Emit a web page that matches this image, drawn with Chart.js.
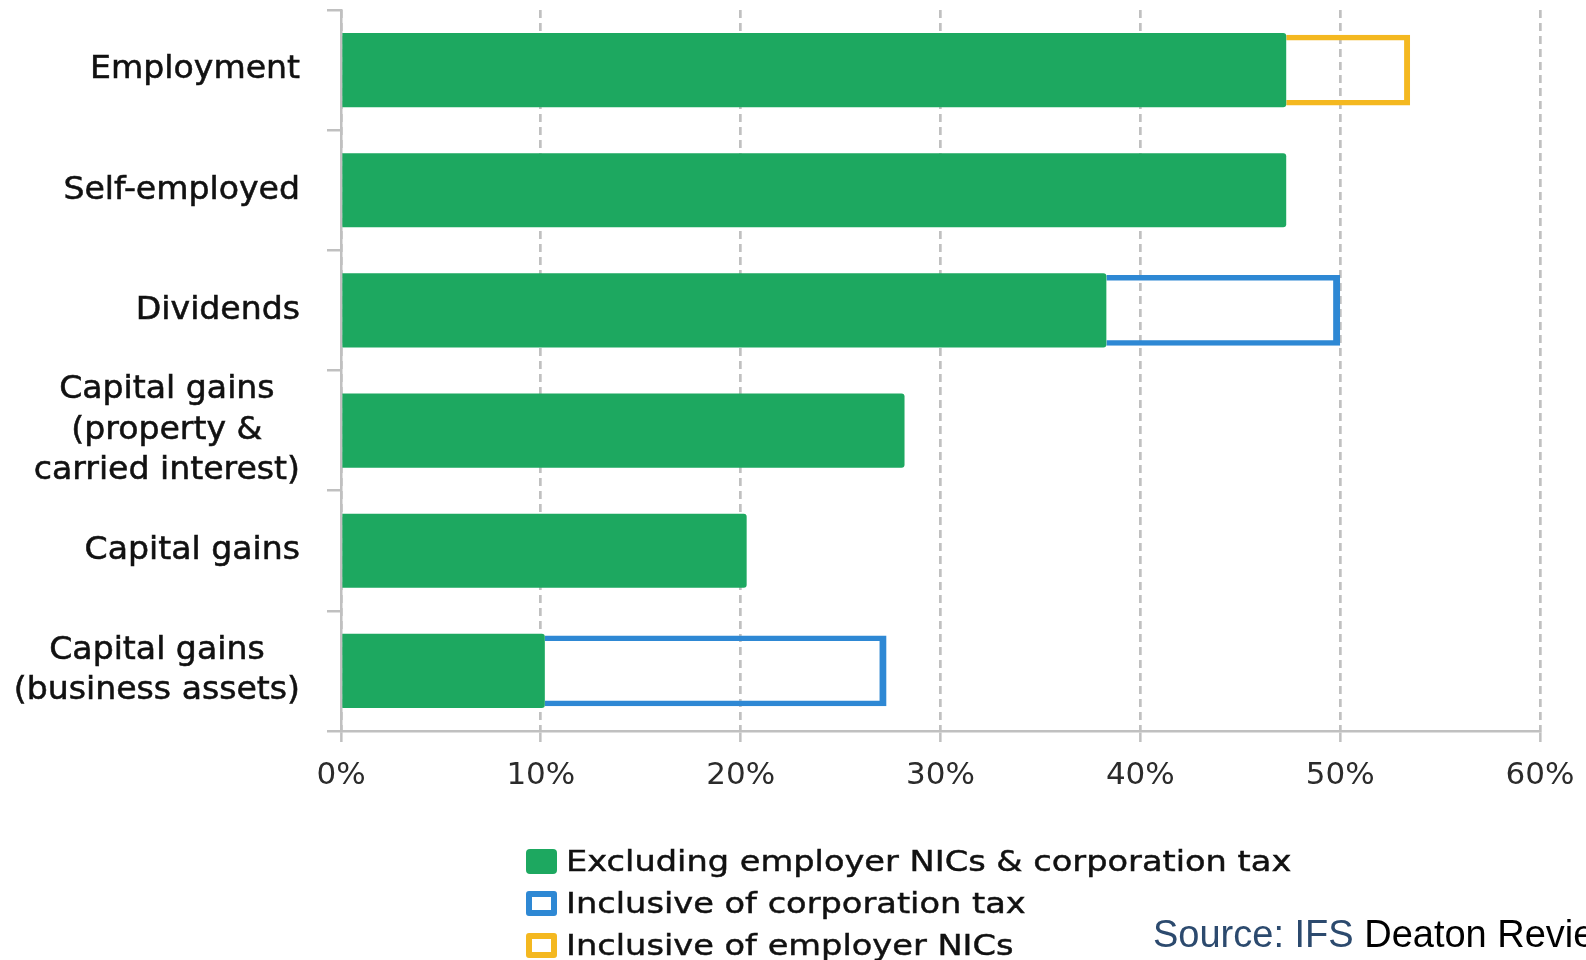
<!DOCTYPE html>
<html>
<head>
<meta charset="utf-8">
<title>Effective tax rates by income source</title>
<script src="https://cdn.jsdelivr.net/npm/chart.js@4/dist/chart.umd.min.js"></script>
<style>
  html, body { margin: 0; padding: 0; background: #fff; }
  body { width: 1586px; height: 960px; position: relative; overflow: hidden; }
  #chart { position: absolute; left: 0; top: 0; }
  .legend { position: absolute; left: 526px; top: 845px; font-family: "DejaVu Sans", sans-serif; font-size: 28.5px; color: #111; -webkit-text-stroke: 0.45px #111; }
  .legend .row { position: relative; height: 42px; }
  .legend .sw { position: absolute; left: 0; box-sizing: border-box; width: 31px; height: 25px; border-radius: 4px; }
  .legend .txt { position: absolute; left: 40px; top: 0; line-height: 34px; white-space: nowrap; transform: scaleX(1.18); transform-origin: left center; }
  .source { position: absolute; left: 1153px; top: 913px; font-family: "Liberation Sans", Arial, sans-serif; font-size: 38px; line-height: 42px; white-space: nowrap; color: #000; }
  .source .org { color: #2c4a6e; }
</style>
</head>
<body>
<canvas id="chart" width="1586" height="960"></canvas>

<div class="legend">
  <div class="row"><span class="sw" style="top:4px;background:#1da860;"></span><span class="txt">Excluding employer NICs &amp; corporation tax</span></div>
  <div class="row"><span class="sw" style="top:4px;border:6px solid #2e88d4;border-radius:3px;"></span><span class="txt">Inclusive of corporation tax</span></div>
  <div class="row"><span class="sw" style="top:4px;border:6px solid #f4b820;border-radius:3px;"></span><span class="txt">Inclusive of employer NICs</span></div>
</div>
<div class="source"><span class="org">Source: IFS</span> Deaton Review</div>

<script>
// Income sources (multi-line labels are arrays of lines)
const categories = [
  'Employment',
  'Self-employed',
  'Dividends',
  ['Capital gains', '(property &', 'carried interest)'],
  'Capital gains',
  ['Capital gains', '(business assets)']
];

// Effective marginal tax rates, %
const excludingTax     = [47.3, 47.3, 38.3, 28.2, 20.3, 10.2];
const withCorpTax      = [null, null, 50.0, null, null, 27.3];
const withEmployerNICs = [53.5, null, null, null, null, null];

// Axis ticks, %
const xTicks = [0, 10, 20, 30, 40, 50, 60];

const GREEN = '#1da860';
const BLUE = '#2e88d4';
const YELLOW = '#f4b820';
const GRID = '#c0c0c0';

// Extra bands run from the base rate up to the inclusive rate
const band = (totals) => totals.map((v, i) => (v == null ? null : [excludingTax[i], v]));

// Category labels: block right-aligned to the axis, lines centred within the block
const blockLabels = {
  id: 'blockLabels',
  afterDraw(chart) {
    const { ctx } = chart;
    const y = chart.scales.y;
    const SX = 1.035, LINE_H = 40.5, RIGHT = 300;
    ctx.save();
    ctx.font = '32px "DejaVu Sans"';
    ctx.fillStyle = '#111';
    ctx.strokeStyle = '#111';
    ctx.lineWidth = 0.55;
    ctx.textAlign = 'center';
    ctx.textBaseline = 'middle';
    categories.forEach((lab, i) => {
      const lines = Array.isArray(lab) ? lab : [lab];
      const w = Math.max(...lines.map(l => ctx.measureText(l).width * SX));
      const cx = RIGHT - w / 2;
      const yc = y.getPixelForValue(i);
      lines.forEach((l, j) => {
        const ly = yc + (j - (lines.length - 1) / 2) * LINE_H;
        ctx.save();
        ctx.translate(cx, ly);
        ctx.scale(SX, 1);
        ctx.fillText(l, 0, 0);
        ctx.strokeText(l, 0, 0);
        ctx.restore();
      });
    });
    ctx.restore();
  }
};

new Chart(document.getElementById('chart'), {
  type: 'bar',
  data: {
    labels: categories,
    datasets: [
      {
        label: 'Excluding employer NICs & corporation tax',
        data: excludingTax,
        backgroundColor: GREEN,
        borderWidth: 0,
        borderRadius: 3,
        borderSkipped: 'start',
        barPercentage: 0.617,
        categoryPercentage: 1,
        grouped: false,
        order: 0
      },
      {
        label: 'Inclusive of corporation tax',
        data: band(withCorpTax),
        backgroundColor: 'rgba(0,0,0,0)',
        borderColor: BLUE,
        borderWidth: { top: 5.5, right: 7, bottom: 5.5, left: 0 },
        borderSkipped: 'start',
        barPercentage: 0.59,
        categoryPercentage: 1,
        grouped: false,
        order: 1
      },
      {
        label: 'Inclusive of employer NICs',
        data: band(withEmployerNICs),
        backgroundColor: 'rgba(0,0,0,0)',
        borderColor: YELLOW,
        borderWidth: { top: 5.5, right: 6, bottom: 5.5, left: 0 },
        borderSkipped: 'start',
        barPercentage: 0.59,
        categoryPercentage: 1,
        grouped: false,
        order: 1
      }
    ]
  },
  options: {
    indexAxis: 'y',
    responsive: false,
    animation: false,
    events: [],
    layout: { padding: { left: 0, top: 10, right: 46, bottom: 169 } },
    plugins: { legend: { display: false }, tooltip: { enabled: false } },
    scales: {
      x: {
        type: 'linear',
        min: 0,
        max: 60,
        afterBuildTicks(scale) { scale.ticks = xTicks.map(v => ({ value: v })); },
        afterFit(scale) {
          scale.height = 60;
          scale.paddingLeft = 0;
          scale.paddingRight = 0;
        },
        grid: {
          color: GRID,
          lineWidth: 2.7,
          tickLength: 11,
          tickBorderDash: [],
          tickColor: GRID,
          tickWidth: 2.5
        },
        border: { display: true, color: GRID, width: 2.5, dash: [8, 5] },
        ticks: {
          padding: 15,
          color: '#2b2b2b',
          font: { family: 'DejaVu Sans', size: 31 },
          callback: (v) => v + '%'
        }
      },
      y: {
        type: 'category',
        offset: true,
        afterFit(scale) { scale.width = 341; },
        grid: {
          offset: true,
          drawOnChartArea: false,
          tickLength: 14,
          color: GRID,
          lineWidth: 2.5
        },
        border: { display: true, color: GRID, width: 2.5 },
        ticks: { display: false }
      }
    }
  },
  plugins: [blockLabels]
});
</script>
</body>
</html>
